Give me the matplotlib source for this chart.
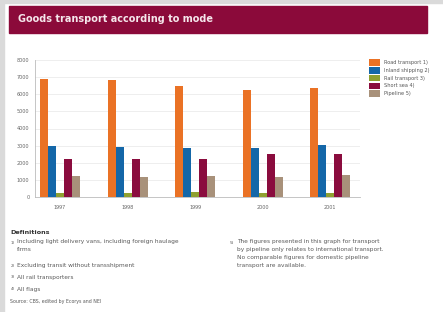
import numpy as np
import matplotlib.pyplot as plt
from matplotlib.patches import Rectangle

years = ["1997", "1998", "1999", "2000", "2001"]
modes = ["Road transport", "Inland shipping", "Rail transport", "Short sea", "Pipeline"]
notes = ["1)", "2)", "3)", "4)", "5)"]
road = [6900, 6850, 6500, 6250, 6370]
inland = [2980, 2920, 2860, 2860, 3040]
rail = [250, 260, 280, 260, 250]
short_sea = [2220, 2220, 2220, 2510, 2510]
pipeline = [1230, 1190, 1230, 1170, 1300]
series = [road, inland, rail, short_sea, pipeline]
colors = ["#EA7225", "#1467A8", "#8FA030", "#8A0C3E", "#A8917A"]

defs_left = ["Including light delivery vans, including foreign haulage\nfirms",
             "Excluding transit without transshipment",
             "All rail transporters",
             "All flags"]
defs_right = ("The figures presented in this graph for transport\n"
              "by pipeline only relates to international transport.\n"
              "No comparable figures for domestic pipeline\n"
              "transport are available.")
source = "Source: CBS, edited by Ecorys and NEI"

W, H = 443, 312
fig = plt.figure(figsize=(W / 100, H / 100), dpi=100, facecolor="white")


def fx(px):
    return px / W


def fy(py):
    return 1 - py / H


# grey frame at left / top edge
fig.patches.append(Rectangle((0, 0), fx(4), 1, transform=fig.transFigure,
                             color="#DADADA", zorder=0))
fig.patches.append(Rectangle((0, fy(3)), 1, 3 / H, transform=fig.transFigure,
                             color="#DADADA", zorder=0))

# title banner
fig.patches.append(Rectangle((fx(9), fy(33)), fx(418), 27 / H,
                             transform=fig.transFigure, color="#8B0A3A", zorder=1))
fig.text(fx(18), fy(19.5), "Goods transport according to mode", color="#F5E6EB",
         fontsize=7, fontweight="bold", va="center", ha="left")

ax = fig.add_axes([fx(35), fy(197), fx(325), 137 / H])
x = np.arange(len(years))
bw = 0.118
for i, (vals, name, note, c) in enumerate(zip(series, modes, notes, colors)):
    ax.bar(x + (i - 2) * bw, vals, width=bw, color=c, label=f"{name} {note}",
           zorder=3)

ax.set_xlim(-0.37, 4.44)
ax.set_ylim(0, 8000)
ax.set_yticks(np.arange(0, 8001, 1000))
ax.set_xticks(x)
ax.set_xticklabels(years)
ax.tick_params(labelsize=3.5, colors="#666666", length=0, pad=6)
ax.tick_params(axis="y", pad=4)
ax.grid(axis="y", color="#E8E8E8", linewidth=0.5, zorder=0)
for s in ["top", "right"]:
    ax.spines[s].set_visible(False)
for s in ["left", "bottom"]:
    ax.spines[s].set_color("#BBBBBB")
    ax.spines[s].set_linewidth(0.6)

fig.legend(loc="upper left", bbox_to_anchor=(fx(364), fy(55)), frameon=False,
           fontsize=3.6, handlelength=2.2, handleheight=1.6, labelspacing=0.25,
           handletextpad=0.8, labelcolor="#555555")

# definitions
txt = "#5A5A5A"
fig.text(fx(10), fy(232), "Definitions", fontsize=4.6, fontweight="bold",
         color="#333333", va="center")
ys = [243, 266, 277, 289]
for n, d, y in zip(notes, defs_left, ys):
    fig.text(fx(11), fy(y), n, fontsize=3, color=txt, va="center")
    if "\n" in d:
        fig.text(fx(17), fy(y - 4), d, fontsize=4.2, color=txt, va="top",
                 linespacing=1.75)
    else:
        fig.text(fx(17), fy(y), d, fontsize=4.2, color=txt, va="center")
fig.text(fx(230), fy(243), notes[4], fontsize=3, color=txt, va="center")
fig.text(fx(237), fy(239), defs_right, fontsize=4.2, color=txt, va="top",
         linespacing=1.75)
fig.text(fx(10), fy(301), source, fontsize=3.4, color=txt, va="center")

fig.savefig("out.png", dpi=100, facecolor="white")
